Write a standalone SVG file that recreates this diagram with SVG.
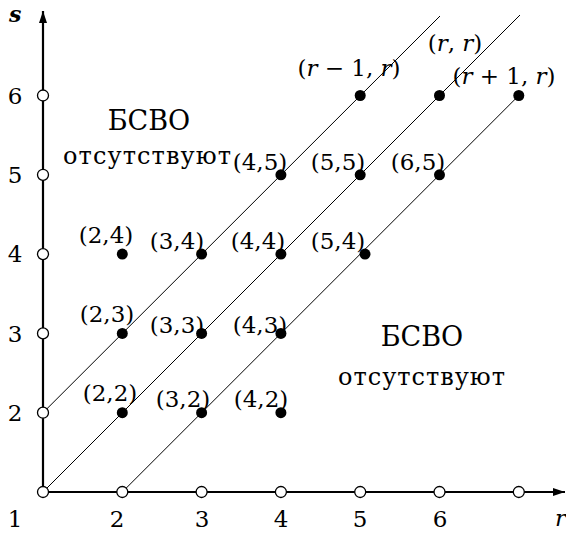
<svg xmlns="http://www.w3.org/2000/svg" width="566" height="533" viewBox="0 0 566 533">
<style>
text{font-family:'DejaVu Serif','Liberation Serif',serif;fill:#000}
.lb{font-size:23px;text-anchor:middle}
.ax{font-size:23px;text-anchor:middle}
.it{font-style:italic}
.big{font-size:27px;text-anchor:middle}
.ru{font-size:24px}
.dot{fill:#000}
.open{fill:#fff;stroke:#000;stroke-width:1.3}
.diag{stroke:#000;stroke-width:1;fill:none}
.axis{stroke:#000;stroke-width:2.2;fill:none}
</style>
<defs>
<marker id="arr" viewBox="0 0 12 8" refX="12" refY="4" markerWidth="12" markerHeight="8" markerUnits="userSpaceOnUse" orient="auto">
<path d="M0,0 L12,4 L0,8 Z" fill="#000"/>
</marker>
</defs>
<g id="connectors">
<line class="axis" x1="43" y1="492" x2="43" y2="11" marker-end="url(#arr)"/>
<line class="axis" x1="43" y1="492" x2="565" y2="492" marker-end="url(#arr)"/>
<line class="diag" x1="43" y1="412.7" x2="440" y2="16"/>
<line class="diag" x1="43" y1="492" x2="520" y2="15"/>
<line class="diag" x1="122.3" y1="492" x2="518.8" y2="95.5"/>
</g>
<g id="axis-labels">
<text class="it" x="9" y="22" style="font-size:22px;font-weight:bold">s</text>
<text class="it" x="555" y="526" style="font-size:23px">r</text>
<text class="ax" x="15" y="527">1</text>
<text class="ax" x="117" y="527">2</text>
<text class="ax" x="202" y="527">3</text>
<text class="ax" x="281" y="527">4</text>
<text class="ax" x="360" y="527">5</text>
<text class="ax" x="440" y="527">6</text>
<text class="ax" x="15" y="421">2</text>
<text class="ax" x="15" y="342">3</text>
<text class="ax" x="15" y="262">4</text>
<text class="ax" x="15" y="183">5</text>
<text class="ax" x="15" y="104">6</text>
</g>
<g id="open-points">
<circle class="open" cx="43" cy="492" r="5.5"/>
<circle class="open" cx="43" cy="412.7" r="5.5"/>
<circle class="open" cx="43" cy="333.4" r="5.5"/>
<circle class="open" cx="43" cy="254.1" r="5.5"/>
<circle class="open" cx="43" cy="174.8" r="5.5"/>
<circle class="open" cx="43" cy="95.5" r="5.5"/>
<circle class="open" cx="122.3" cy="492" r="5.5"/>
<circle class="open" cx="201.6" cy="492" r="5.5"/>
<circle class="open" cx="280.9" cy="492" r="5.5"/>
<circle class="open" cx="360.2" cy="492" r="5.5"/>
<circle class="open" cx="439.5" cy="492" r="5.5"/>
<circle class="open" cx="518.8" cy="492" r="5.5"/>
</g>
<g id="p22"><circle class="dot" cx="122.3" cy="412.7" r="5.5"/><text class="lb" x="110" y="401">(2,2)</text></g>
<g id="p32"><circle class="dot" cx="201.6" cy="412.7" r="5.5"/><text class="lb" x="183" y="407">(3,2)</text></g>
<g id="p42"><circle class="dot" cx="280.9" cy="412.7" r="5.5"/><text class="lb" x="261" y="407">(4,2)</text></g>
<g id="p23"><circle class="dot" cx="122.3" cy="333.4" r="5.5"/><text class="lb" x="107" y="322">(2,3)</text></g>
<g id="p33"><circle class="dot" cx="201.6" cy="333.4" r="5.5"/><text class="lb" x="177" y="333">(3,3)</text></g>
<g id="p43"><circle class="dot" cx="280.9" cy="333.4" r="5.5"/><text class="lb" x="260" y="333">(4,3)</text></g>
<g id="p24"><circle class="dot" cx="122.3" cy="254.1" r="5.5"/><text class="lb" x="106" y="243">(2,4)</text></g>
<g id="p34"><circle class="dot" cx="201.6" cy="254.1" r="5.5"/><text class="lb" x="177" y="249">(3,4)</text></g>
<g id="p44"><circle class="dot" cx="280.9" cy="254.1" r="5.5"/><text class="lb" x="258" y="249">(4,4)</text></g>
<g id="p54"><circle class="dot" cx="365" cy="254.1" r="5.5"/><text class="lb" x="338" y="249">(5,4)</text></g>
<g id="p45"><circle class="dot" cx="280.9" cy="174.8" r="5.5"/><text class="lb" x="260" y="170">(4,5)</text></g>
<g id="p55"><circle class="dot" cx="360.2" cy="174.8" r="5.5"/><text class="lb" x="338" y="170">(5,5)</text></g>
<g id="p65"><circle class="dot" cx="439.5" cy="174.8" r="5.5"/><text class="lb" x="418" y="170">(6,5)</text></g>
<g id="p56"><circle class="dot" cx="360.2" cy="95.5" r="5.5"/><text class="lb" x="349" y="76">(<tspan class="it">r</tspan> − 1, <tspan class="it">r</tspan>)</text></g>
<g id="p66"><circle class="dot" cx="439.5" cy="95.5" r="5.5"/><text class="lb" x="455" y="51">(<tspan class="it">r</tspan>, <tspan class="it">r</tspan>)</text></g>
<g id="p76"><circle class="dot" cx="518.8" cy="95.5" r="5.5"/><text class="lb" x="504" y="84">(<tspan class="it">r</tspan> + 1, <tspan class="it">r</tspan>)</text></g>
<g id="region-left">
<text class="big" x="149" y="130">БСВО</text>
<text class="ru" x="63" y="164" textLength="168" lengthAdjust="spacing">отсутствуют</text>
</g>
<g id="region-right">
<text class="big" x="422" y="346">БСВО</text>
<text class="ru" x="338" y="385" textLength="167" lengthAdjust="spacing">отсутствуют</text>
</g>
</svg>
